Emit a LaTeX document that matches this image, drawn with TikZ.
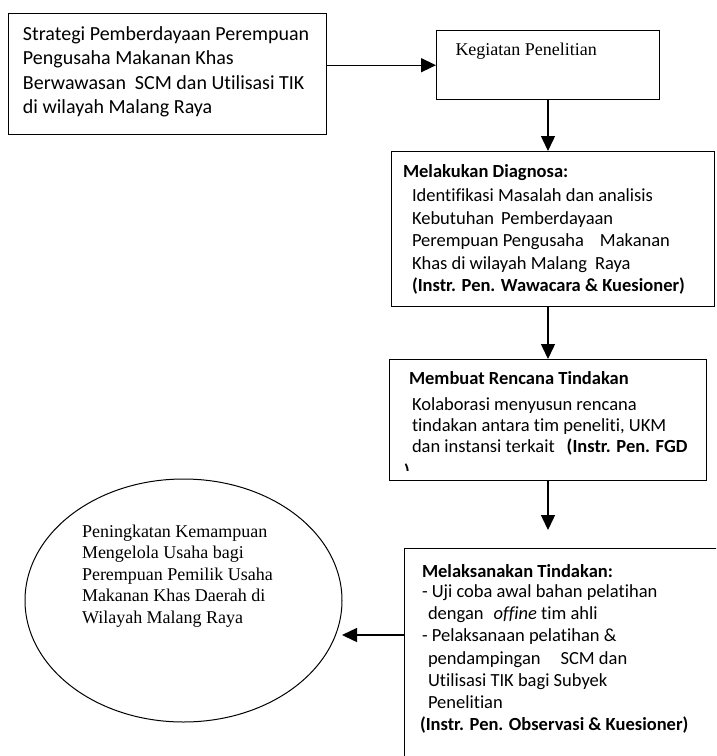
\documentclass[tikz,border=0pt]{standalone}
\usepackage{fontspec}
\setmainfont{Carlito}[Ligatures={NoCommon}]
\newfontfamily\tnrfont{Liberation Serif}
\usetikzlibrary{arrows.meta,shapes.geometric}
\begin{document}
\begin{tikzpicture}[x=1pt,y=-1pt,
  box/.style={draw,line width=1.4pt,rectangle,anchor=north west,inner sep=0pt},
  arr/.style={line width=1.4pt,-{Triangle[length=15pt,width=14pt]}},
  txt/.style={anchor=base west,inner sep=0pt,outer sep=0pt},
]
\useasboundingbox (0,0) rectangle (716,756);
\clip (0,0) rectangle (716,756);
\fill[white] (0,0) rectangle (716,756);

% boxes
\node[box,minimum width=318pt,minimum height=121pt] (b1) at (8,13) {};
\node[box,minimum width=223pt,minimum height=69pt] (b2) at (436,30) {};
\node[box,minimum width=323pt,minimum height=155pt] (b3) at (391,151) {};
\node[box,minimum width=317pt,minimum height=121pt] (b4) at (389,359) {};
\node[box,minimum width=400pt,minimum height=300pt] (b5) at (404,548) {};
\node[draw,ellipse,line width=1pt,minimum width=317pt,minimum height=243pt,inner sep=0pt] (el) at (183.5,600.5) {};

% texts
\node[txt] (t1) at (23,40) {\parbox[t]{300pt}{\fontsize{20}{24.6}\selectfont
Strategi Pemberdayaan Perempuan\\
Pengusaha Makanan Khas\\
Berwawasan\hspace{9pt}SCM dan Utilisasi TIK\\
di wilayah Malang Raya}};

\node[txt] (t2) at (455.5,55) {\tnrfont\fontsize{18}{21.5}\selectfont Kegiatan Penelitian};

\node[txt] (t3h) at (403,177) {\fontsize{18.5}{22.6}\selectfont\bfseries Melakukan Diagnosa:};
\node[txt] (t3) at (412,201.5) {\parbox[t]{300pt}{\fontsize{18.5}{22.6}\selectfont
Identifikasi Masalah dan analisis\\
Kebutuhan\hspace{7pt}Pemberdayaan\\
Perempuan Pengusaha\hspace{16pt}Makanan\\
Khas di wilayah Malang\hspace{8pt}Raya\\
\textbf{(Instr. Pen. Wawacara \& Kuesioner)}}};

\node[txt] (t4h) at (409,384) {\fontsize{18.5}{21.5}\selectfont\bfseries Membuat Rencana Tindakan};
\node[txt] (t4) at (412,410) {\parbox[t]{300pt}{\fontsize{18.5}{21.4}\selectfont
Kolaborasi menyusun rencana\\
tindakan antara tim peneliti, UKM\\
dan instansi terkait\hspace{12pt}\textbf{(Instr. Pen. FGD}}};
\begin{scope}
\clip (389,359) rectangle (706,470.5);
\node[txt] (t4p) at (404,477) {\fontsize{18.5}{21.5}\selectfont\bfseries )};
\end{scope}

\node[txt] (t5h) at (422,577) {\fontsize{18.5}{22.2}\selectfont\bfseries Melaksanakan Tindakan:};
\node[txt] (t5) at (422,597.5) {\parbox[t]{300pt}{\fontsize{18.5}{22.2}\selectfont
- Uji coba awal bahan pelatihan\\
\hspace*{6pt}dengan\hspace{10pt}\textit{offine} tim ahli\\
- Pelaksanaan pelatihan \&\\
\hspace*{6pt}pendampingan\hspace{20pt}SCM dan\\
\hspace*{6pt}Utilisasi TIK bagi Subyek\\
\hspace*{6pt}Penelitian\\
\hspace*{-2pt}\textbf{(Instr. Pen. Observasi \& Kuesioner)}}};

\node[txt] (t6) at (82,537) {\parbox[t]{260pt}{\tnrfont\fontsize{18}{21.5}\selectfont
Peningkatan Kemampuan\\
Mengelola Usaha bagi\\
Perempuan Pemilik Usaha\\
Makanan Khas Daerah di\\
Wilayah Malang Raya}};

% connectors
\coordinate (cx) at (548,0);
\coordinate (t5tip) at (548,530);
\coordinate (eltip) at (342,635);
\draw[arr] (b1.east |- b2.west) -- (b2.west);
\draw[arr] (b2.south -| cx) -- (b3.north -| cx);
\draw[arr] (b3.south -| cx) -- (b4.north -| cx);
\draw[arr] (b4.south -| cx) -- (t5tip);
\draw[arr] (b5.west |- eltip) -- (eltip);
\end{tikzpicture}
\end{document}
